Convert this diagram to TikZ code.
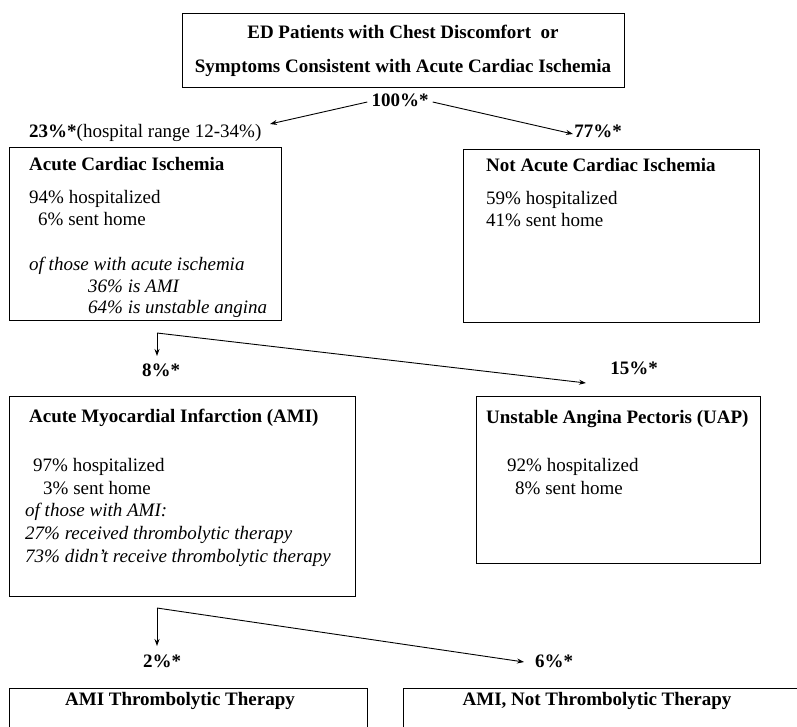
\documentclass[tikz,border=0pt]{standalone}
\usepackage{fontspec}
\setmainfont{Liberation Serif}
\usetikzlibrary{arrows.meta}
\begin{document}
\begin{tikzpicture}[x=1pt,y=-1pt,
  box/.style={draw, line width=1pt, anchor=north west, inner sep=0pt},
  txt/.style={anchor=west, inner sep=0pt, font=\fontsize{19}{22}\selectfont, text height=13pt, text depth=4pt},
  ttl/.style={txt, font=\fontsize{19}{22}\selectfont\bfseries},
  itl/.style={txt, font=\fontsize{19}{22}\selectfont\itshape},
  pct/.style={anchor=center, inner sep=0pt, font=\fontsize{19}{22}\selectfont\bfseries, text height=13pt, text depth=4pt},
  arr/.style={line width=0.9pt, -{Stealth[length=7pt,width=5pt]}},
]
\path[use as bounding box] (0,0) rectangle (797,726);
\clip (0,0) rectangle (797,726);

% boxes
\node[box, minimum width=442pt, minimum height=74pt] (top) at (182,13) {};
\node[box, minimum width=272pt, minimum height=173pt] (aci) at (9,147) {};
\node[box, minimum width=296pt, minimum height=173pt] (naci) at (463,149) {};
\node[box, minimum width=346pt, minimum height=200pt] (ami) at (9,396) {};
\node[box, minimum width=284pt, minimum height=167pt] (uap) at (476,396) {};
\node[box, minimum width=358pt, minimum height=80pt] (amit) at (9,688) {};
\node[box, minimum width=420pt, minimum height=80pt] (amin) at (403,688) {};

% top texts
\node[ttl, anchor=center] (t1) at (403,34) {ED Patients with Chest Discomfort\ \ or};
\node[ttl, anchor=center] (t2) at (403,68) {Symptoms Consistent with Acute Cardiac Ischemia};

% ACI box
\node[ttl] (aci1) at (29,166) {Acute Cardiac Ischemia};
\node[txt] (aci2) at (29,199) {94\% hospitalized};
\node[txt] (aci3) at (38,221) {6\% sent home};
\node[itl] (aci4) at (29,266) {of those with acute ischemia};
\node[itl] (aci5) at (88,288) {36\% is AMI};
\node[itl] (aci6) at (88,309) {64\% is unstable angina};

% Not ACI box
\node[ttl] (naci1) at (486,167) {Not Acute Cardiac Ischemia};
\node[txt] (naci2) at (486,200) {59\% hospitalized};
\node[txt] (naci3) at (486,222) {41\% sent home};

% AMI box
\node[ttl] (ami1) at (29,418) {Acute Myocardial Infarction (AMI)};
\node[txt] (ami2) at (33,467) {97\% hospitalized};
\node[txt] (ami3) at (43,490) {3\% sent home};
\node[itl] (ami4) at (25,512) {of those with AMI:};
\node[itl] (ami5) at (25,535) {27\% received thrombolytic therapy};
\node[itl] (ami6) at (25,558) {73\% didn't receive thrombolytic therapy};

% UAP box
\node[ttl] (uap1) at (486,419) {Unstable Angina Pectoris (UAP)};
\node[txt] (uap2) at (507,467) {92\% hospitalized};
\node[txt] (uap3) at (515,490) {8\% sent home};

% bottom boxes
\node[ttl, anchor=center] (amit1) at (180,701) {AMI Thrombolytic Therapy};
\node[ttl, anchor=center] (amin1) at (597,701) {AMI, Not Thrombolytic Therapy};

% percentage labels
\node[pct] (p100) at (400,102) {100\%*};
\node[txt] (p23) at (29,133) {\textbf{23\%*}(hospital range 12-34\%)};
\node[pct] (p77) at (598,133) {77\%*};
\node[pct] (p8) at (161,372) {8\%*};
\node[pct] (p15) at (634,370) {15\%*};
\node[pct] (p2) at (162,663) {2\%*};
\node[pct] (p6) at (554,663) {6\%*};

% connector points
\coordinate (a23) at (270,124);
\coordinate (a77) at (573,134);
\coordinate (c2) at (157,333);
\coordinate (d2) at (157,356);
\coordinate (e2) at (586,383);
\coordinate (c3) at (157,608);
\coordinate (d3) at (157,646);
\coordinate (e3) at (524,662);

% connectors
\draw[arr] ([xshift=-4pt]p100.west) -- (a23);
\draw[arr] ([xshift=4pt]p100.east) -- (a77);
\draw[arr] (c2) -- (d2);
\draw[arr] (c2) -- (e2);
\draw[arr] (c3) -- (d3);
\draw[arr] (c3) -- (e3);
\end{tikzpicture}
\end{document}
